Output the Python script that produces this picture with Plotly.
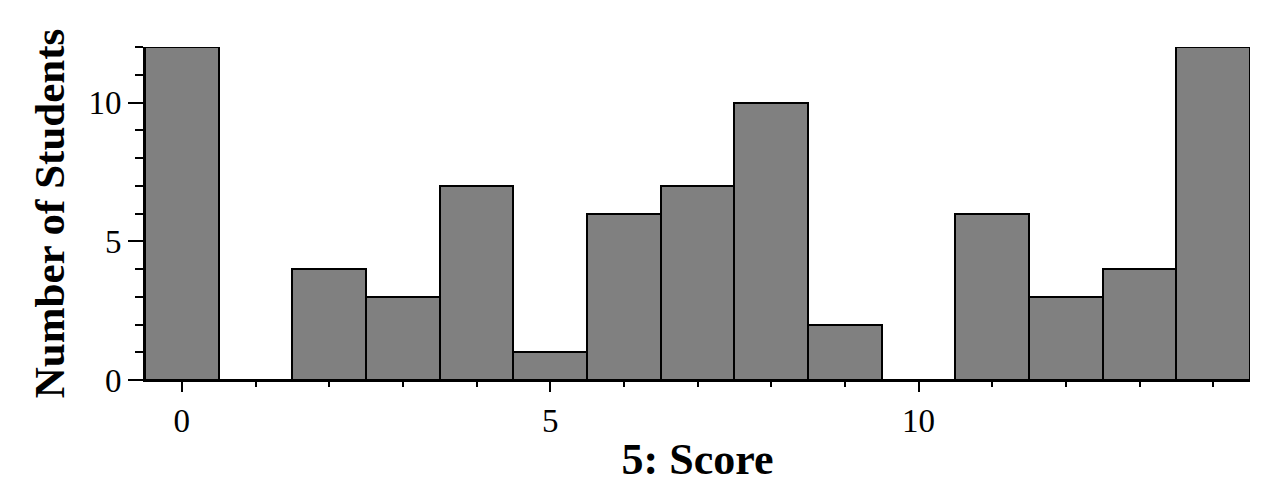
import plotly.graph_objects as go

scores = list(range(15))
counts = [12, 0, 4, 3, 7, 1, 6, 7, 10, 2, 0, 6, 3, 4, 12]
x_title = "5: Score"
y_title = "Number of Students"

fig = go.Figure(go.Bar(
    x=scores, y=counts,
    marker=dict(color="#808080", line=dict(color="black", width=2)),
    width=1.0,
))

font = "Liberation Serif, Times New Roman, serif"
# page body has an 8px margin, so the figure is sized/offset to compensate
fig.update_layout(
    width=1262, height=490,
    margin=dict(l=137, r=20, t=39, b=118),
    paper_bgcolor="white", plot_bgcolor="white",
    bargap=0, showlegend=False,
    font=dict(family=font, size=33, color="black"),
)
fig.update_xaxes(
    range=[-0.5, 14.5], tickvals=[0, 5, 10], ticktext=["0", "5", "10"],
    ticks="outside", ticklen=10, tickwidth=2, tickcolor="black",
    showline=True, linecolor="black", linewidth=2,
    showgrid=False, zeroline=False,
    minor=dict(dtick=1, tick0=0, ticks="outside", ticklen=5, tickwidth=2, tickcolor="black", showgrid=False),
    tickfont=dict(size=33),
    title=dict(text="<b>" + x_title + "</b>", font=dict(size=44), standoff=6),
)
fig.update_yaxes(
    range=[0, 12], tickvals=[0, 5, 10],
    ticks="outside", ticklen=15, tickwidth=2, tickcolor="black",
    showline=True, linecolor="black", linewidth=2,
    showgrid=False, zeroline=False,
    minor=dict(dtick=1, tick0=0, ticks="outside", ticklen=8, tickwidth=2, tickcolor="black", showgrid=False),
    tickfont=dict(size=33),
    title=dict(text="<b>" + y_title + "</b>", font=dict(size=43), standoff=10),
)

fig.write_html("out.html")
